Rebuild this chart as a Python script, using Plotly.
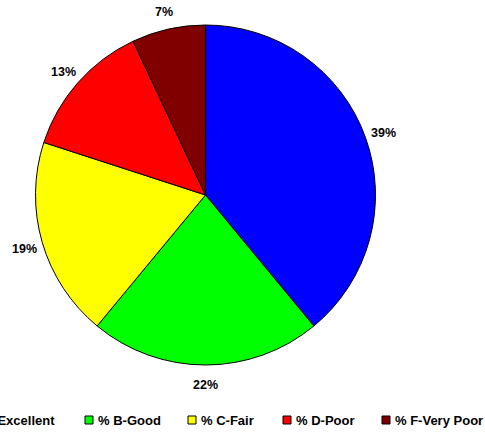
import math
import plotly.graph_objects as go

labels = ["% A-Excellent", "% B-Good", "% C-Fair", "% D-Poor", "% F-Very Poor"]
values = [39, 22, 19, 13, 7]
colors = ["#0000FF", "#00FF00", "#FFFF00", "#FF0000", "#800000"]

# layout constants (pixels)
W, H = 485, 432
CX, CY, R = 205.5, 195, 170
LABEL_R = 1.11
legend_sym_x = [-44, 85, 188, 283, 382]
LEG_Y = 420
SYM = 8

fig = go.Figure(go.Pie(
    labels=labels, values=values, sort=False, direction="clockwise", rotation=0,
    marker=dict(colors=colors, line=dict(color="black", width=1)),
    textinfo="none", showlegend=False,
    domain=dict(x=[(CX - R) / W, (CX + R) / W], y=[(H - CY - R) / H, (H - CY + R) / H]),
    hoverinfo="label+percent",
))

total = sum(values)
cum = 0
annotations = []
for v in values:
    mid = (cum + v / 2) / total * 2 * math.pi
    cum += v
    px = CX + LABEL_R * R * math.sin(mid)
    py = CY - LABEL_R * R * math.cos(mid) + 1.5
    annotations.append(dict(
        x=px / W, y=1 - py / H, xref="paper", yref="paper",
        text=f"{round(v / total * 100)}%", showarrow=False,
        xanchor="center", yanchor="middle",
        font=dict(family="Liberation Sans", size=12.5, color="black", weight="bold"),
    ))

shapes = []
for lab, col, sx in zip(labels, colors, legend_sym_x):
    shapes.append(dict(
        type="rect", xref="paper", yref="paper",
        x0=sx / W, x1=(sx + SYM) / W,
        y0=1 - (LEG_Y + SYM / 2) / H, y1=1 - (LEG_Y - SYM / 2) / H,
        fillcolor=col, line=dict(color="black", width=1),
    ))
    annotations.append(dict(
        x=(sx + SYM + 3) / W, y=1 - LEG_Y / H, xref="paper", yref="paper",
        text=lab, showarrow=False, xanchor="left", yanchor="middle",
        font=dict(family="Liberation Sans", size=13, color="black", weight="bold"),
    ))

fig.update_layout(
    width=W, height=H, margin=dict(l=0, r=0, t=0, b=0),
    paper_bgcolor="white", plot_bgcolor="white",
    showlegend=False,
    annotations=annotations, shapes=shapes,
)
fig.write_html("out.html", config={"displayModeBar": False},
               post_script="document.body.style.margin='0';document.body.style.overflow='hidden';")
